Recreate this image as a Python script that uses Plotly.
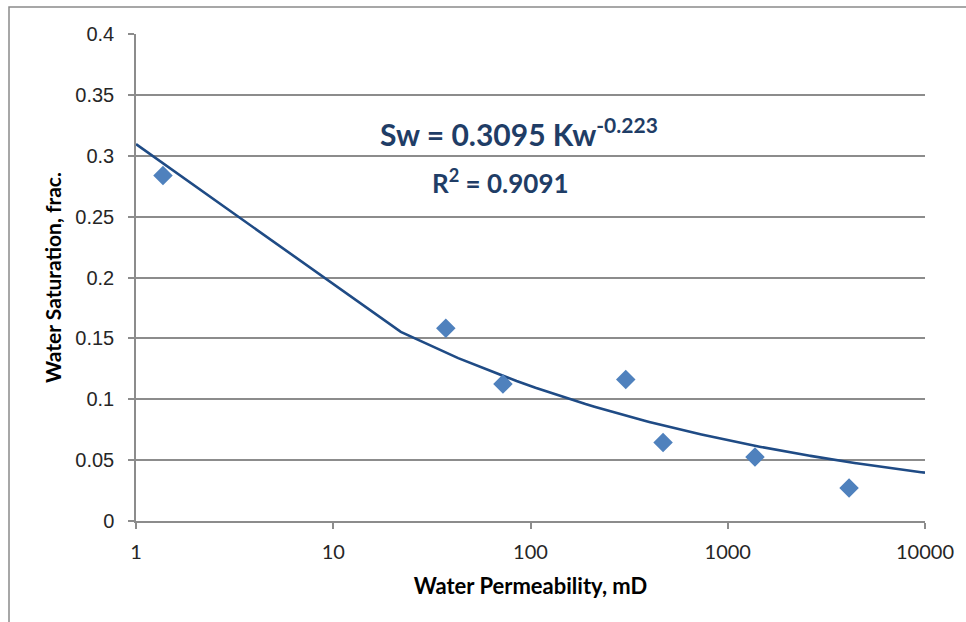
import numpy as np
import plotly.graph_objects as go

# ---- data ----
perm_md = [1.37, 37.2, 72.5, 304, 470, 1374, 4120]
sw_frac = [0.2838, 0.1583, 0.1125, 0.1162, 0.0645, 0.0526, 0.0271]

# power trendline from the chart label: Sw = a * Kw^b
fit_a = 0.3095
fit_b = -0.223
fit_r2 = 0.9091
trend_x_min, trend_x_max, trend_step = 1, 10000, 21

x_ticks = [1, 10, 100, 1000, 10000]
x_tick_text = ["1", "10", "100", "1000", "10000"]
y_ticks = [0, 0.05, 0.1, 0.15, 0.2, 0.25, 0.3, 0.35, 0.4]
y_tick_text = ["0", "0.05", "0.1", "0.15", "0.2", "0.25", "0.3", "0.35", "0.4"]

trend_x = np.append(np.arange(trend_x_min, trend_x_max, trend_step), trend_x_max)
trend_y = fit_a * trend_x ** fit_b

GRID = "#8c8c8c"
NAVY = "#1f3d66"

fig = go.Figure()
fig.add_trace(go.Scatter(
    x=trend_x, y=trend_y, mode="lines",
    line=dict(color="#1f4b85", width=2.6),
    hoverinfo="skip", showlegend=False,
))
fig.add_trace(go.Scatter(
    x=perm_md, y=sw_frac, mode="markers",
    marker=dict(symbol="diamond", size=15, color="#4f81bd"),
    showlegend=False,
))

fig.update_layout(
    width=966, height=622,
    margin=dict(l=136, r=41, t=34, b=101),
    paper_bgcolor="white", plot_bgcolor="white",
    font=dict(family="Liberation Sans, Arial, sans-serif", color="#262626"),
    showlegend=False,
)

fig.update_xaxes(
    type="log", range=[0, 4],
    tickvals=x_ticks, ticktext=x_tick_text,
    showgrid=False, zeroline=False,
    showline=True, linecolor=GRID, linewidth=1.5,
    ticks="outside", ticklen=6, tickcolor=GRID, tickwidth=1.5,
    tickfont=dict(family="Lato, sans-serif", size=20, color="#262626"),
    ticklabelstandoff=6,
    title=dict(text="<b>Water Permeability, mD</b>",
               font=dict(family="Lato, sans-serif", size=22, color="#000000"),
               standoff=17),
)
fig.update_yaxes(
    range=[0, 0.4],
    tickvals=y_ticks, ticktext=y_tick_text,
    showgrid=True, gridcolor=GRID, gridwidth=1.5,
    zeroline=False,
    showline=True, linecolor=GRID, linewidth=1.5,
    ticks="outside", ticklen=6, tickcolor=GRID, tickwidth=1.5,
    tickfont=dict(family="Liberation Sans, Arial, sans-serif", size=20, color="#262626"),
    ticklabelstandoff=10,
    title=dict(text="<b>Water Saturation, frac.</b>",
               font=dict(family="Lato, sans-serif", size=21, color="#000000"),
               standoff=8),
)

# outer chart border
fig.add_shape(type="rect", xref="paper", yref="paper",
              x0=(9 - 136) / 789, x1=1.2, y0=-0.5, y1=(521 - 7) / 487,
              line=dict(color="#8a8a8a", width=1.5), layer="below")

fig.add_annotation(
    xref="paper", yref="paper", x=(519 - 136) / 789, y=(521 - 110) / 487,
    text=f"<b>Sw = {fit_a} Kw<sup>{fit_b}</sup></b>", showarrow=False,
    font=dict(family="Lato, sans-serif", size=30, color=NAVY),
)
fig.add_annotation(
    xref="paper", yref="paper", x=(500 - 136) / 789, y=(521 - 162) / 487,
    text=f"<b>R<sup>2</sup> = {fit_r2}</b>", showarrow=False,
    font=dict(family="Lato, sans-serif", size=26, color=NAVY),
)

fig.write_html("out.html")
